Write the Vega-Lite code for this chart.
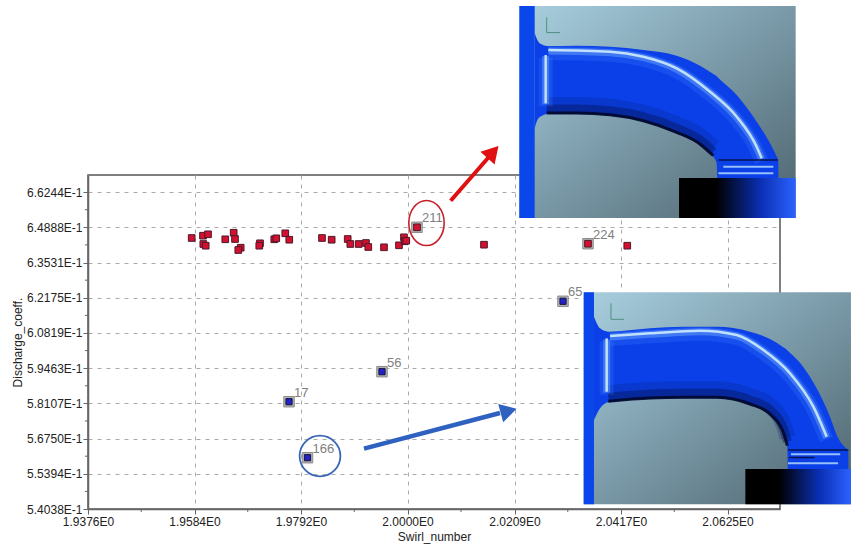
{
"$schema":"https://vega.github.io/schema/vega-lite/v6.json",
"width":692,"height":334,"autosize":{"type":"none"},
"padding":{"left":88,"top":175,"right":71,"bottom":37},
"background":"white",
"config":{"view":{"stroke":"#555","strokeWidth":1.5},"font":"Liberation Sans"},
"datasets":{
"pts":[
{"x":1.95785,"y":0.64477,"group":"red"},{"x":1.96006,"y":0.64566,"group":"red"},{"x":1.96104,"y":0.6462,"group":"red"},{"x":1.96012,"y":0.64246,"group":"red"},{"x":1.96059,"y":0.6418,"group":"red"},{"x":1.96441,"y":0.64427,"group":"red"},{"x":1.96605,"y":0.64681,"group":"red"},{"x":1.96631,"y":0.64438,"group":"red"},{"x":1.96742,"y":0.64103,"group":"red"},{"x":1.96695,"y":0.64015,"group":"red"},{"x":1.97119,"y":0.64273,"group":"red"},{"x":1.97105,"y":0.6418,"group":"red"},{"x":1.97398,"y":0.64427,"group":"red"},{"x":1.97437,"y":0.64465,"group":"red"},{"x":1.97613,"y":0.64658,"group":"red"},{"x":1.97691,"y":0.64411,"group":"red"},{"x":1.9833,"y":0.64477,"group":"red"},{"x":1.98519,"y":0.64411,"group":"red"},{"x":1.98832,"y":0.64438,"group":"red"},{"x":1.98883,"y":0.64246,"group":"red"},{"x":1.99047,"y":0.64246,"group":"red"},{"x":1.99189,"y":0.64284,"group":"red"},{"x":1.99234,"y":0.6413,"group":"red"},{"x":1.99541,"y":0.64119,"group":"red"},{"x":1.99834,"y":0.64196,"group":"red"},{"x":1.99931,"y":0.64504,"group":"red"},{"x":1.99945,"y":0.6435,"group":"red"},{"x":1.99976,"y":0.64373,"group":"red"},
{"x":2.00185,"y":0.64889,"group":"red","label":"211"},{"x":2.01494,"y":0.64219,"group":"red"},{"x":2.03525,"y":0.64257,"group":"red","label":"224"},{"x":2.04292,"y":0.6418,"group":"red"},
{"x":2.03037,"y":0.62039,"group":"blue","label":"65"},{"x":1.99502,"y":0.59327,"group":"blue","label":"56"},{"x":1.97686,"y":0.58171,"group":"blue","label":"17"},{"x":1.98047,"y":0.56014,"group":"blue","label":"166"}
],
"rects":[
{"part":"bg","x":2.02184,"x2":2.07581,"y":0.65248,"y2":0.73414},
{"part":"band","x":2.02184,"x2":2.02484,"y":0.65248,"y2":0.73414},
{"part":"base","x":2.05303,"x2":2.07581,"y":0.65248,"y2":0.66788},
{"part":"bg","x":2.03441,"x2":2.08661,"y":0.54218,"y2":0.62384},
{"part":"band","x":2.03441,"x2":2.03642,"y":0.54218,"y2":0.62384},
{"part":"base","x":2.06598,"x2":2.08661,"y":0.54218,"y2":0.55578}
],
"ducts":[
{"inset":"a","x":2.02484,"y":0.72361,"y2":0.68702},{"inset":"a","x":2.02555,"y":0.7204,"y2":0.69087},{"inset":"a","x":2.0262,"y":0.71937,"y2":0.69177},{"inset":"a","x":2.02718,"y":0.71873,"y2":0.69254},{"inset":"a","x":2.03304,"y":0.71886,"y2":0.69254},{"inset":"a","x":2.03955,"y":0.71847,"y2":0.6919},{"inset":"a","x":2.04606,"y":0.71719,"y2":0.68958},{"inset":"a","x":2.05257,"y":0.71501,"y2":0.68509},{"inset":"a","x":2.05713,"y":0.71116,"y2":0.6806},{"inset":"a","x":2.05973,"y":0.70795,"y2":0.6761},{"inset":"a","x":2.06038,"y":0.70705,"y2":0.67353},{"inset":"a","x":2.06051,"y":0.70679,"y2":0.66788},{"inset":"a","x":2.06429,"y":0.69986,"y2":0.66788},{"inset":"a","x":2.06819,"y":0.68958,"y2":0.66788},{"inset":"a","x":2.0708,"y":0.68124,"y2":0.66788},{"inset":"a","x":2.07243,"y":0.67482,"y2":0.66788},
{"inset":"b","x":2.03642,"y":0.61446,"y2":0.57466},{"inset":"b","x":2.0376,"y":0.60997,"y2":0.57915},{"inset":"b","x":2.03922,"y":0.60869,"y2":0.58146},{"inset":"b","x":2.04736,"y":0.60997,"y2":0.58275},{"inset":"b","x":2.05387,"y":0.61061,"y2":0.58301},{"inset":"b","x":2.06038,"y":0.61061,"y2":0.58301},{"inset":"b","x":2.06689,"y":0.60869,"y2":0.58044},{"inset":"b","x":2.0708,"y":0.60586,"y2":0.57659},{"inset":"b","x":2.0734,"y":0.60265,"y2":0.56952},{"inset":"b","x":2.07418,"y":0.6015,"y2":0.56439},{"inset":"b","x":2.07431,"y":0.60124,"y2":0.55578},{"inset":"b","x":2.07665,"y":0.59674,"y2":0.55578},{"inset":"b","x":2.07991,"y":0.58686,"y2":0.55578},{"inset":"b","x":2.08251,"y":0.57594,"y2":0.55578},{"inset":"b","x":2.08414,"y":0.5676,"y2":0.55578},{"inset":"b","x":2.0861,"y":0.5631,"y2":0.55578}
],
"strokes":[
{"kind":"hi","path":"a1","ord":1,"x":2.02751,"y":0.71719},{"kind":"hi","path":"a1","ord":2,"x":2.03955,"y":0.71655},{"kind":"hi","path":"a1","ord":3,"x":2.04606,"y":0.71462},{"kind":"hi","path":"a1","ord":4,"x":2.05257,"y":0.71013},{"kind":"hi","path":"a1","ord":5,"x":2.05908,"y":0.70114},{"kind":"hi","path":"a1","ord":6,"x":2.06429,"y":0.69151},{"kind":"hi","path":"a1","ord":7,"x":2.06819,"y":0.67995},{"kind":"hi","path":"a1","ord":8,"x":2.06917,"y":0.67546},
{"kind":"hi","path":"a2","ord":1,"x":2.02699,"y":0.71526},{"kind":"hi","path":"a2","ord":2,"x":2.02699,"y":0.69665},
{"kind":"thinhi","path":"a3","ord":1,"x":2.06168,"y":0.67225},{"kind":"thinhi","path":"a3","ord":2,"x":2.07145,"y":0.67225},
{"kind":"thinhi","path":"a4","ord":1,"x":2.06071,"y":0.66968},{"kind":"thinhi","path":"a4","ord":2,"x":2.07145,"y":0.66968},
{"kind":"hi","path":"b1","ord":1,"x":2.03955,"y":0.60702},{"kind":"hi","path":"b1","ord":2,"x":2.04736,"y":0.60804},{"kind":"hi","path":"b1","ord":3,"x":2.05713,"y":0.60907},{"kind":"hi","path":"b1","ord":4,"x":2.06429,"y":0.6074},{"kind":"hi","path":"b1","ord":5,"x":2.0695,"y":0.60162},{"kind":"hi","path":"b1","ord":6,"x":2.0747,"y":0.59264},{"kind":"hi","path":"b1","ord":7,"x":2.07926,"y":0.5798},{"kind":"hi","path":"b1","ord":8,"x":2.08186,"y":0.56824},
{"kind":"hi","path":"b2","ord":1,"x":2.0389,"y":0.60612},{"kind":"hi","path":"b2","ord":2,"x":2.0389,"y":0.58558},
{"kind":"thinhi","path":"b3","ord":1,"x":2.07431,"y":0.558},{"kind":"thinhi","path":"b3","ord":2,"x":2.0841,"y":0.558},
{"kind":"thinhi","path":"b4","ord":1,"x":2.0749,"y":0.5615},{"kind":"thinhi","path":"b4","ord":2,"x":2.0845,"y":0.5615},
{"kind":"dark","path":"a5","ord":1,"x":2.02718,"y":0.69254},{"kind":"dark","path":"a5","ord":2,"x":2.03304,"y":0.69254},{"kind":"dark","path":"a5","ord":3,"x":2.03955,"y":0.6919},{"kind":"dark","path":"a5","ord":4,"x":2.04606,"y":0.68958},{"kind":"dark","path":"a5","ord":5,"x":2.05257,"y":0.68509},{"kind":"dark","path":"a5","ord":6,"x":2.05713,"y":0.6806},{"kind":"dark","path":"a5","ord":7,"x":2.05973,"y":0.6761},
{"kind":"thin","path":"a6","ord":1,"x":2.06071,"y":0.67482},{"kind":"thin","path":"a6","ord":2,"x":2.0723,"y":0.67482},
{"kind":"dark","path":"b5","ord":1,"x":2.03922,"y":0.58146},{"kind":"dark","path":"b5","ord":2,"x":2.04736,"y":0.58275},{"kind":"dark","path":"b5","ord":3,"x":2.05387,"y":0.58301},{"kind":"dark","path":"b5","ord":4,"x":2.06038,"y":0.58301},{"kind":"dark","path":"b5","ord":5,"x":2.06689,"y":0.58044},{"kind":"dark","path":"b5","ord":6,"x":2.0708,"y":0.57659},{"kind":"dark","path":"b5","ord":7,"x":2.0734,"y":0.56952},{"kind":"dark","path":"b5","ord":8,"x":2.07418,"y":0.56439},
{"kind":"thin","path":"b6","ord":1,"x":2.07431,"y":0.5631},{"kind":"thin","path":"b6","ord":2,"x":2.0861,"y":0.5631},
{"kind":"thin","path":"b7","ord":1,"x":2.0745,"y":0.5602},{"kind":"thin","path":"b7","ord":2,"x":2.0795,"y":0.5602},
{"kind":"triad","path":"a7","ord":1,"x":2.02718,"y":0.72975},{"kind":"triad","path":"a7","ord":2,"x":2.02718,"y":0.7239},{"kind":"triad","path":"a7","ord":3,"x":2.02979,"y":0.7239},
{"kind":"triad","path":"b8","ord":1,"x":2.03974,"y":0.6196},{"kind":"triad","path":"b8","ord":2,"x":2.03974,"y":0.61344},{"kind":"triad","path":"b8","ord":3,"x":2.04228,"y":0.61344}
],
"minor":[
{"x":1.948,"x2":1.948,"y":0.54038,"y2":0.53922},{"x":1.9688,"x2":1.9688,"y":0.54038,"y2":0.53922},{"x":1.9896,"x2":1.9896,"y":0.54038,"y2":0.53922},{"x":2.01045,"x2":2.01045,"y":0.54038,"y2":0.53922},{"x":2.0313,"x2":2.0313,"y":0.54038,"y2":0.53922},{"x":2.0521,"x2":2.0521,"y":0.54038,"y2":0.53922},
{"x":1.9376,"x2":1.9370,"y":0.54716,"y2":0.54716},{"x":1.9376,"x2":1.9370,"y":0.56072,"y2":0.56072},{"x":1.9376,"x2":1.9370,"y":0.57429,"y2":0.57429},{"x":1.9376,"x2":1.9370,"y":0.58785,"y2":0.58785},{"x":1.9376,"x2":1.9370,"y":0.60141,"y2":0.60141},{"x":1.9376,"x2":1.9370,"y":0.61497,"y2":0.61497},{"x":1.9376,"x2":1.9370,"y":0.62853,"y2":0.62853},{"x":1.9376,"x2":1.9370,"y":0.6421,"y2":0.6421},{"x":1.9376,"x2":1.9370,"y":0.65566,"y2":0.65566}
],
"arrows":[
{"who":"red","x":2.00843,"y":0.65914,"x2":2.01572,"y2":0.67558},
{"who":"blue","x":1.9915,"y":0.56361,"x2":2.01806,"y2":0.57736}
],
"heads":[{"who":"red","x":2.0167,"y":0.67790},{"who":"blue","x":2.01975,"y":0.57813}],
"rings":[{"who":"red","x":2.00371,"y":0.65055},{"who":"blue","x":1.98291,"y":0.5608}]
},
"data":{"name":"pts"},
"encoding":{
"x":{"field":"x","type":"quantitative","title":"Swirl_number","scale":{"domain":[1.9376,2.07275],"nice":false,"zero":false},
"axis":{"values":[1.9376,1.9584,1.9792,2.0,2.0209,2.0417,2.0625],"labelExpr":"format(datum.value,'.4f')+'E0'","grid":true,"gridColor":"#aaa","gridDash":[4,5],"gridWidth":1,"domainColor":"#666","domainWidth":1.5,"tickColor":"#666","tickSize":5,"labelFont":"Liberation Sans","labelFontSize":12,"labelColor":"#222","labelPadding":2,"labelFlush":false,"labelOverlap":false,"titleFont":"Liberation Sans","titleFontSize":12,"titleFontWeight":"normal","titleColor":"#222","titlePadding":4}},
"y":{"field":"y","type":"quantitative","title":"Discharge_coeff.","scale":{"domain":[0.54038,0.66904],"nice":false,"zero":false},
"axis":{"values":[0.54038,0.55394,0.5675,0.58107,0.59463,0.60819,0.62175,0.63531,0.64888,0.66244],"labelExpr":"format(datum.value*10,'.4f')+'E-1'","grid":true,"gridColor":"#aaa","gridDash":[4,5],"gridWidth":1,"domainColor":"#666","domainWidth":1.5,"tickColor":"#666","tickSize":5,"labelFont":"Liberation Sans","labelFontSize":12,"labelColor":"#222","labelPadding":1,"labelOverlap":false,"labelFlush":false,"titleFont":"Liberation Sans","titleFontSize":12,"titleFontWeight":"normal","titleColor":"#222","titlePadding":2}}
},
"layer":[
{"data":{"name":"minor"},"mark":{"type":"rule","color":"#666","strokeWidth":1},"encoding":{"x2":{"field":"x2"},"y2":{"field":"y2"}}},
{"transform":[{"filter":"isValid(datum.label)"}],"mark":{"type":"square","size":110,"color":"#b3b3b3","opacity":1,"stroke":"#8c8c8c","strokeWidth":1}},
{"transform":[{"filter":"datum.group=='red'"}],"mark":{"type":"square","size":44,"color":"#d3102f","opacity":1,"stroke":"#4a1a2a","strokeWidth":1}},
{"transform":[{"filter":"datum.group=='blue'"}],"mark":{"type":"square","size":38,"color":"#2222c8","opacity":1,"stroke":"#15153a","strokeWidth":1}},
{"transform":[{"filter":"isValid(datum.label)"}],"mark":{"type":"text","align":"left","baseline":"middle","dx":5,"dy":-9,"font":"Liberation Sans","fontSize":13,"color":"#808080"},"encoding":{"text":{"field":"label"}}},
{"data":{"name":"rects"},"transform":[{"filter":"datum.part=='bg'"}],"mark":{"type":"rect","color":{"gradient":"linear","x1":0,"y1":0,"x2":1,"y2":1,"stops":[{"offset":0,"color":"#a9d0e0"},{"offset":0.45,"color":"#7f9fae"},{"offset":1,"color":"#4c626c"}]}},"encoding":{"x2":{"field":"x2"},"y2":{"field":"y2"}}},
{"data":{"name":"rects"},"transform":[{"filter":"datum.part=='band'"}],"mark":{"type":"rect","color":"#0b46ea"},"encoding":{"x2":{"field":"x2"},"y2":{"field":"y2"}}},
{"data":{"name":"rects"},"transform":[{"filter":"datum.part=='base'"}],"mark":{"type":"rect","color":{"gradient":"linear","x1":0,"y1":0,"x2":1,"y2":0,"stops":[{"offset":0,"color":"#000000"},{"offset":0.32,"color":"#000000"},{"offset":0.7,"color":"#0a2fb4"},{"offset":1,"color":"#2b62ff"}]}},"encoding":{"x2":{"field":"x2"},"y2":{"field":"y2"}}},
{"data":{"name":"ducts"},"mark":{"type":"area","interpolate":"monotone","color":"#0b40e8"},"encoding":{"y2":{"field":"y2"},"detail":{"field":"inset"}}},
{"data":{"name":"strokes"},"transform":[{"filter":"datum.kind=='dark'"}],"mark":{"type":"line","interpolate":"monotone","color":"#061c70","strokeWidth":16,"opacity":0.22,"yOffset":-9},"encoding":{"detail":{"field":"path"},"order":{"field":"ord"}}},
{"data":{"name":"strokes"},"transform":[{"filter":"datum.kind=='dark'"}],"mark":{"type":"line","interpolate":"monotone","color":"#04124f","strokeWidth":9,"opacity":0.4,"yOffset":-5},"encoding":{"detail":{"field":"path"},"order":{"field":"ord"}}},
{"data":{"name":"strokes"},"transform":[{"filter":"datum.kind=='dark'"}],"mark":{"type":"line","interpolate":"monotone","color":"#02082a","strokeWidth":3,"opacity":0.9,"yOffset":-1},"encoding":{"detail":{"field":"path"},"order":{"field":"ord"}}},
{"data":{"name":"strokes"},"transform":[{"filter":"datum.kind=='hi'"}],"mark":{"type":"line","interpolate":"monotone","color":"#3f86ff","strokeWidth":14,"opacity":0.22,"yOffset":3},"encoding":{"detail":{"field":"path"},"order":{"field":"ord"}}},
{"data":{"name":"strokes"},"transform":[{"filter":"datum.kind=='hi'"}],"mark":{"type":"line","interpolate":"monotone","color":"#7fb6ff","strokeWidth":7,"opacity":0.4,"yOffset":1},"encoding":{"detail":{"field":"path"},"order":{"field":"ord"}}},
{"data":{"name":"strokes"},"transform":[{"filter":"datum.kind=='hi'"}],"mark":{"type":"line","interpolate":"monotone","color":"#d6f2ff","strokeWidth":2.5,"opacity":0.85},"encoding":{"detail":{"field":"path"},"order":{"field":"ord"}}},
{"data":{"name":"strokes"},"transform":[{"filter":"datum.kind=='thinhi'"}],"mark":{"type":"line","color":"#b8e0ff","strokeWidth":2,"opacity":0.8},"encoding":{"detail":{"field":"path"},"order":{"field":"ord"}}},
{"data":{"name":"strokes"},"transform":[{"filter":"datum.kind=='thin'"}],"mark":{"type":"line","color":"#04103c","strokeWidth":1.5,"opacity":0.9},"encoding":{"detail":{"field":"path"},"order":{"field":"ord"}}},
{"data":{"name":"strokes"},"transform":[{"filter":"datum.kind=='triad'"}],"mark":{"type":"line","color":"#4f9080","strokeWidth":1},"encoding":{"detail":{"field":"path"},"order":{"field":"ord"}}},
{"data":{"name":"rings"},"transform":[{"filter":"datum.who=='red'"}],"mark":{"type":"point","shape":"M-0.786,0A0.786,1 0 1,1 0.786,0A0.786,1 0 1,1 -0.786,0Z","size":2025,"filled":false,"color":"#c8202a","strokeWidth":1.6,"opacity":1}},
{"data":{"name":"rings"},"transform":[{"filter":"datum.who=='blue'"}],"mark":{"type":"point","shape":"circle","size":1662,"filled":false,"color":"#3a68b8","strokeWidth":1.8,"opacity":1}},
{"data":{"name":"arrows"},"transform":[{"filter":"datum.who=='red'"}],"mark":{"type":"rule","color":"#e01010","strokeWidth":4},"encoding":{"x2":{"field":"x2"},"y2":{"field":"y2"}}},
{"data":{"name":"arrows"},"transform":[{"filter":"datum.who=='blue'"}],"mark":{"type":"rule","color":"#2f62c0","strokeWidth":4.5},"encoding":{"x2":{"field":"x2"},"y2":{"field":"y2"}}},
{"data":{"name":"heads"},"transform":[{"filter":"datum.who=='red'"}],"mark":{"type":"point","shape":"triangle-up","angle":42,"size":360,"filled":true,"color":"#e01010","opacity":1}},
{"data":{"name":"heads"},"transform":[{"filter":"datum.who=='blue'"}],"mark":{"type":"point","shape":"triangle-up","angle":75,"size":360,"filled":true,"color":"#2f62c0","opacity":1}}
]
}
